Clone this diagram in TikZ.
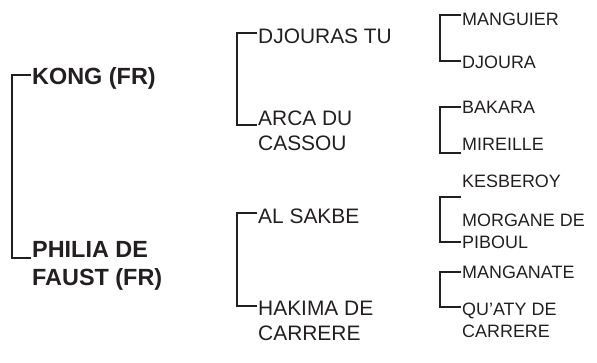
\documentclass[tikz,border=0pt]{standalone}
\usepackage{fontspec}
\setmainfont{Liberation Sans}
\usetikzlibrary{calc}
\definecolor{ink}{HTML}{231F20}
\tikzset{
  lbl/.style={anchor=base west, inner sep=0pt, align=left, text=ink},
  gen1/.style={lbl, font=\fontsize{23.5}{28}\selectfont\bfseries},
  gen2/.style={lbl, font=\fontsize{21}{25}\selectfont},
  gen3/.style={lbl, font=\fontsize{18}{22}\selectfont},
  brk/.style={draw=ink, line width=1.8bp}
}
% bracket from #1 down to #2, #3/#4 = shift from base, #5 = stub length
\newcommand{\brk}[5]{ \draw[brk] ($(#1.base west)+(-1,#3)$) -- ++(-#5,0) |- ($(#2.base west)+(-1,#4)$);}

\begin{document}
\begin{tikzpicture}[x=1bp,y=-1bp]
        \useasboundingbox (0,0) rectangle (597,362);
        % sire and dam
        \node[gen1] (kong) at (32,84) {KONG (FR)};
        \node[gen1] (philia) at (32,285) {PHILIA DE\\FAUST (FR)};
        \brk{kong}{philia}{-9}{-27}{19}

        % grandparents
        \node[gen2] (djouras) at (258,43) {DJOURAS TU};
        \node[gen2] (arca) at (258,150) {ARCA DU\\CASSOU};
        \node[gen2] (alsakbe) at (258,223) {AL SAKBE};
        \node[gen2] (hakima) at (258,340) {HAKIMA DE\\CARRERE};
        \brk{djouras}{arca}{-10}{-25}{20}
        \brk{alsakbe}{hakima}{-10}{-34}{20}

        % great-grandparents
        \node[gen3] (manguier) at (462,25) {MANGUIER};
        \node[gen3] (djoura) at (462,68) {DJOURA};
        \node[gen3] (bakara) at (462,113) {BAKARA};
        \node[gen3] (mireille) at (462,150) {MIREILLE};
        \node[gen3] (kesberoy) at (462,187) {KESBEROY};
        \node[gen3] (morgane) at (462,248) {MORGANE DE\\PIBOUL};
        \node[gen3] (manganate) at (462,278) {MANGANATE};
        \node[gen3] (quaty) at (462,337) {QU'ATY DE\\CARRERE};
        \brk{manguier}{djoura}{-10}{-7}{21}
        \brk{bakara}{mireille}{-6}{3}{21}
        \brk{kesberoy}{morgane}{10}{-6}{21}
        \brk{manganate}{quaty}{-6}{-30}{21}
\end{tikzpicture}
\end{document}
